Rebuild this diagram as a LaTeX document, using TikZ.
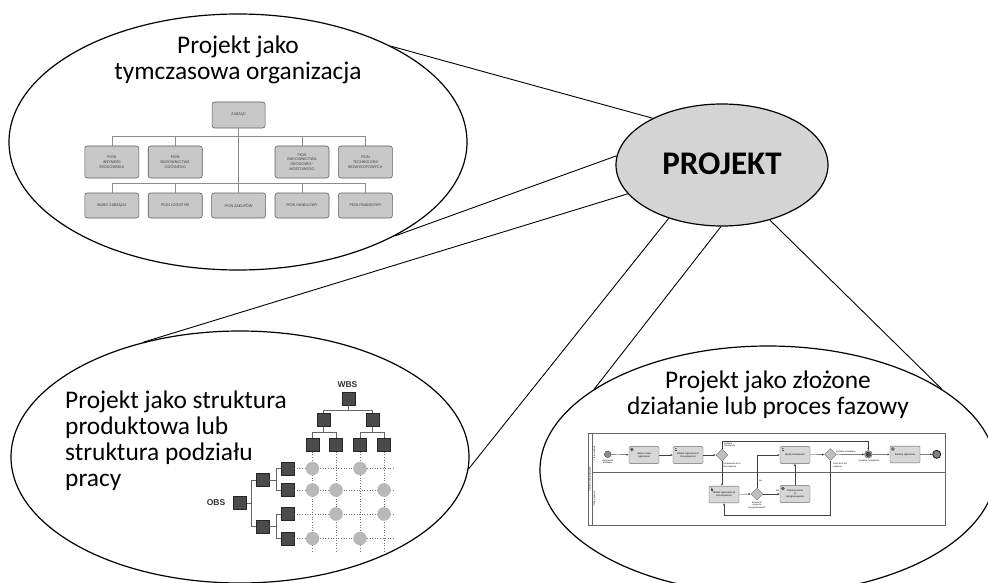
\documentclass[tikz,border=0pt]{standalone}
\usepackage{fontspec}
\setmainfont{Carlito}
\newfontfamily\orgfont{Poppins}
\newfontfamily\bpfont{Liberation Sans}
\usetikzlibrary{shapes.geometric,arrows.meta,calc}
\definecolor{projfill}{RGB}{212,212,212}
\definecolor{boxfill}{RGB}{200,200,200}
\definecolor{boxline}{RGB}{95,95,95}
\definecolor{sqfill}{RGB}{75,75,75}
\definecolor{circfill}{RGB}{185,185,185}
\definecolor{taskfill}{RGB}{215,215,215}
\begin{document}
\begin{tikzpicture}[x=1pt,y=-1pt,
  bigell/.style={draw=black, line width=1.2pt, ellipse, inner sep=0pt},
  conn/.style={draw=black, line width=0.9pt},
  titletext/.style={font=\fontsize{25.4}{26}\selectfont, inner sep=0pt},
  orgbox/.style={draw=boxline, fill=boxfill, rounded corners=2.5pt, line width=0.6pt, minimum width=54pt, inner sep=0pt, align=center, font=\orgfont\fontsize{3.8}{4.8}\selectfont, text=black!75},
  orgline/.style={draw=black!45, line width=0.6pt},
  wsq/.style={draw=black!85, fill=sqfill, minimum size=13pt, inner sep=0pt},
  wline/.style={draw=black!60, line width=0.6pt},
  gridline/.style={draw=black!55, dotted, line width=0.6pt},
  dotc/.style={circle, fill=circfill, draw=black!30, minimum size=13pt, inner sep=0pt},
  task/.style={draw=black!60, fill=taskfill, rounded corners=1pt, minimum width=30pt, minimum height=16.7pt, inner sep=0.5pt, align=center, font=\bpfont\fontsize{2.4}{2.9}\selectfont, line width=0.4pt},
  gw/.style={diamond, draw=black!55, fill=black!25, minimum size=12pt, inner sep=0pt, line width=0.4pt},
  flow/.style={draw=black!75, line width=0.4pt, -{Latex[length=2.2pt,width=2pt]}},
  blabel/.style={font=\bpfont\fontsize{2.2}{2.7}\selectfont, inner sep=0pt, align=left},
  lane/.style={draw=black!60, line width=0.5pt}
]
\useasboundingbox (0,0) rectangle (988,583);
\fill[white] (0,0) rectangle (988,583);
\clip (0,0) rectangle (988,583);

% main ellipses
\node[bigell, minimum width=458pt, minimum height=256pt] (org) at (238,142) {};
\node[bigell, minimum width=458pt, minimum height=252pt] (wbs) at (240,457) {};
\node[bigell, minimum width=456pt, minimum height=248pt] (proc) at (768,470) {};
\node[bigell, fill=projfill, minimum width=212pt, minimum height=122pt] (proj) at (722,165) {};
\node[font=\bfseries\fontsize{33}{33}\selectfont, inner sep=0pt] (projt) at (722,164) {PROJEKT};

% connectors
\draw[conn] (proj.146.7) -- (org.32.8);
\draw[conn] (proj.175.1) -- (org.329.5);
\draw[conn] (proj.197.5) -- (wbs.130.5);
\draw[conn] (proj.225.5) -- (wbs.357);
\draw[conn] (proj.269) -- (proc.155.4);
\draw[conn] (proj.311.6) -- (proc.25.4);

% titles
\node[titletext, align=center] (orgt) at (238,60) {Projekt jako\\tymczasowa organizacja};
\node[titletext, align=left, anchor=west] (wbst) at (65,441) {Projekt jako struktura\\produktowa lub\\struktura podziału\\pracy};
\node[titletext, align=center] (proct) at (768,395) {Projekt jako złożone\\działanie lub proces fazowy};

% org chart
\node[orgbox, minimum width=53pt, minimum height=26pt] (zarzad) at (238.6,115) {ZARZĄD};
\node[orgbox, minimum height=32pt] (a1) at (111.8,162) {PION\\INŻYNIERII\\ŚRODOWISKA};
\node[orgbox, minimum height=32pt] (a2) at (175.2,162) {PION\\BUDOWNICTWA\\OGÓLNEGO};
\node[orgbox, minimum height=32pt] (a4) at (302,162) {PION\\BUDOWNICTWA\\DROGOWO-\\MOSTOWEGO};
\node[orgbox, minimum height=32pt] (a5) at (365.4,162) {PION\\TECHNOLOGII\\BEZWYKOPOWYCH};
\node[orgbox, minimum height=25pt] (b1) at (111.8,205.5) {BIURO ZARZĄDU};
\node[orgbox, minimum height=25pt] (b2) at (175.2,205.5) {PION LOGISTYKI};
\node[orgbox, minimum height=25pt] (b3) at (238.6,205.5) {PION ZAKUPÓW};
\node[orgbox, minimum height=25pt] (b4) at (302,205.5) {PION HANDLOWY};
\node[orgbox, minimum height=25pt] (b5) at (365.4,205.5) {PION FINANSOWY};
\draw[orgline] (zarzad.south) -- (b3.north);
\draw[orgline] (a1.north) -- ++(0,-9) -| (a5.north);
\draw[orgline] (a2.north) -- ++(0,-9);
\draw[orgline] (a4.north) -- ++(0,-9);
\draw[orgline] (b1.north) -- ++(0,-9) -| (b5.north);
\draw[orgline] (b2.north) -- ++(0,-9);
\draw[orgline] (b4.north) -- ++(0,-9);

% WBS / OBS
\node[wsq] (w0) at (348.5,398.5) {};
\node[wsq] (w1a) at (323.5,420) {};
\node[wsq] (w1b) at (372.5,420) {};
\node[wsq] (w2a) at (312.5,445) {};
\node[wsq] (w2b) at (336,445) {};
\node[wsq] (w2c) at (360,445) {};
\node[wsq] (w2d) at (384,445) {};
\node[wsq] (o0) at (240,503) {};
\node[wsq] (o1a) at (262.5,480) {};
\node[wsq] (o1b) at (262.5,526.5) {};
\node[wsq] (o2a) at (287.5,468.5) {};
\node[wsq] (o2b) at (287.5,490) {};
\node[wsq] (o2c) at (287.5,514) {};
\node[wsq] (o2d) at (287.5,538.5) {};
\node[font=\bpfont\bfseries\fontsize{8.5}{8.5}\selectfont, text=black!80, inner sep=0pt] (wbsl) at (347.5,385) {WBS};
\node[font=\bpfont\bfseries\fontsize{8.5}{8.5}\selectfont, text=black!80, inner sep=0pt] (obsl) at (216,503) {OBS};
\draw[wline] (w0.south) -- ++(0,5) -| (w1a.north);
\draw[wline] (w0.south) -- ++(0,5) -| (w1b.north);
\draw[wline] (w1a.south) -- ++(0,6) -| (w2a.north);
\draw[wline] (w1a.south) -- ++(0,6) -| (w2b.north);
\draw[wline] (w1b.south) -- ++(0,6) -| (w2c.north);
\draw[wline] (w1b.south) -- ++(0,6) -| (w2d.north);
\draw[wline] (o0.east) -- ++(5,0) |- (o1a.west);
\draw[wline] (o0.east) -- ++(5,0) |- (o1b.west);
\draw[wline] (o1a.east) -- ++(7,0) |- (o2a.west);
\draw[wline] (o1a.east) -- ++(7,0) |- (o2b.west);
\draw[wline] (o1b.east) -- ++(7,0) |- (o2c.west);
\draw[wline] (o1b.east) -- ++(7,0) |- (o2d.west);
\foreach \n in {w2a,w2b,w2c,w2d} \draw[gridline] (\n.south) -- ++(0,100);
\foreach \n in {o2a,o2b,o2c,o2d} \draw[gridline] (\n.east) -- ++(101,0);
\node[dotc] (c11) at (312.5,468.5) {};
\node[dotc] (c13) at (360,468.5) {};
\node[dotc] (c21) at (312.5,490) {};
\node[dotc] (c22) at (336,490) {};
\node[dotc] (c24) at (384,490) {};
\node[dotc] (c32) at (336,514) {};
\node[dotc] (c34) at (384,514) {};
\node[dotc] (c41) at (312.5,538.5) {};
\node[dotc] (c43) at (360,538.5) {};

% BPMN process
\draw[lane] (588,433) rectangle (945,525);
\draw[lane] (592,433) -- (592,525);
\draw[lane] (592,472.7) -- (945,472.7);
\node[blabel, rotate=90] (poolt) at (590,479) {System obsługi zgłoszeń};
\node[blabel, rotate=90] (lane1t) at (594.6,453) {I linia wsparcia};
\node[blabel, rotate=90] (lane2t) at (594.6,499) {II linia wsparcia};

\node[circle, draw=black!75, fill=black!45, minimum size=6.6pt, inner sep=0pt, line width=0.4pt] (st) at (607.7,454.3) {};
\node[task] (t1) at (644,455) {Utwórz nowe\\zgłoszenie};
\node[task] (t2) at (688,455) {Obsłuż zgłoszenie (I\\linia wsparcia)};
\node[gw] (g1) at (722,455) {};
\node[task] (t3) at (724,494.5) {Obsłuż zgłoszenie (II\\linia wsparcia)};
\node[gw] (g2) at (757,494) {};
\node[task] (t5) at (795,494) {Dokonaj zmian\\w\\oprogramowaniu};
\node[task] (t4) at (795,455) {Wyślij rozwiązanie};
\node[gw] (g3) at (830.5,454.5) {};
\node[circle, draw=black!75, fill=black!20, minimum size=7.5pt, inner sep=0pt, line width=0.4pt] (ie) at (868.3,454.3) {};
\node[circle, draw=black!80, fill=black!70, minimum size=5pt, inner sep=0pt, line width=0.3pt] (iein) at (868.3,454.3) {};
\node[task] (t6) at (905,454.5) {Zamknij zgłoszenie};
\node[circle, draw=black!85, fill=black!50, minimum size=8pt, inner sep=0pt, line width=0.9pt] (en) at (936.7,454.3) {};

% task icons
\foreach \n in {t1,t5,t6} {
  \draw[black!70, line width=0.7pt, dash pattern=on 0.45pt off 0.45pt] ($(\n.north west)+(3,3)$) circle (1.5);
  \draw[black!70, line width=0.3pt] ($(\n.north west)+(3,3)$) circle (0.6);
}
\foreach \n in {t2,t3,t4} {
  \fill[black!70] ($(\n.north west)+(3,2.2)$) circle (0.8);
  \fill[black!70] ($(\n.north west)+(1.8,3.4)$) rectangle ($(\n.north west)+(4.2,5)$);
}

\draw[flow] (st) -- (t1);
\draw[flow] (t1) -- (t2);
\draw[flow] (t2) -- (g1);
\draw[flow] (g1.north) -- ++(0,-7.5) -| (ie.north);
\draw[flow] (g1.south) -- (g1.south |- t3.north);
\draw[flow] (t3) -- (g2);
\draw[flow] (g2.north) |- (t4.west);
\draw[flow] (g2) -- (t5);
\draw[flow] (t5) -- (t4);
\draw[flow] (t4) -- (g3);
\draw[flow] (g3) -- (ie);
\draw[flow] (g3.south) -- ++(0,54.5) -| (t3.south);
\draw[flow] (ie) -- (t6);
\draw[flow] (t6) -- (en);

\node[blabel, align=center, anchor=north] (stl) at (607.7,459.5) {Zgłoszenie\\problemu};
\node[blabel, anchor=south west] (l1) at (724,447.5) {problem\\rozwiązany};
\node[blabel, anchor=north west] (l2) at (723.5,463) {przekazanie do II\\linii wsparcia};
\node[blabel, align=center, anchor=north] (l3) at (757,501.5) {konieczne\\wsparcie\\oprogramowania?};
\node[blabel] (l4) at (760.5,481) {nie};
\node[blabel] (l5) at (777.5,491) {tak};
\node[blabel, anchor=south] (l6) at (846,453) {problem rozwiązany};
\node[blabel, anchor=north west] (l7) at (833,463) {zwrot do II linii\\wsparcia};
\node[blabel, anchor=north] (l8) at (869,459.5) {wysłanie rozwiązania};
\end{tikzpicture}
\end{document}
